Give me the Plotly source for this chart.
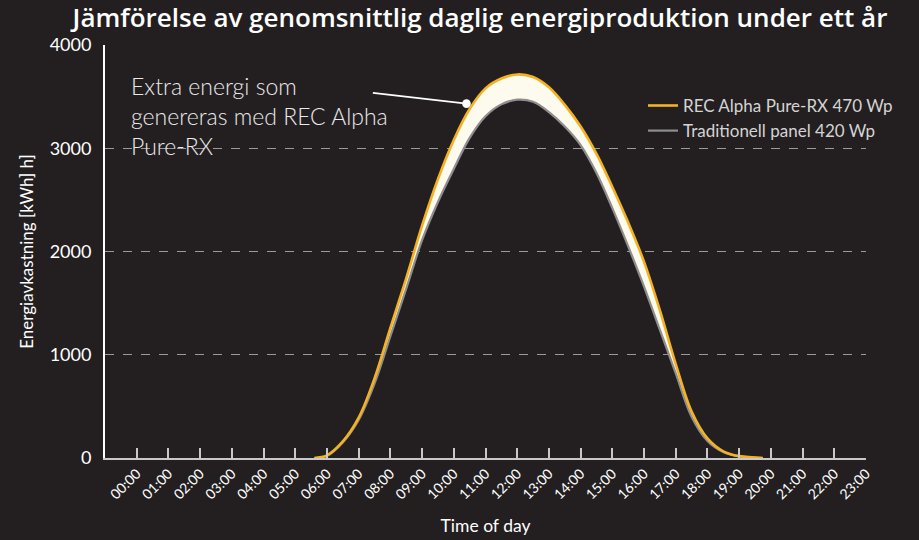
import plotly.graph_objects as go

# Data (hour of day, energy yield)
hours = [5.6, 6, 6.5, 7, 7.5, 8, 8.5, 9, 9.5, 10, 10.5, 11, 11.5, 12, 12.5, 13, 13.5, 14, 14.5,
         15, 15.5, 16, 16.5, 17, 17.5, 18, 18.5, 19, 19.75]
rec_values = [0, 25, 160, 390, 770, 1260, 1740, 2250, 2700, 3080, 3380, 3580, 3675, 3715, 3690,
              3590, 3420, 3210, 2945, 2625, 2280, 1900, 1430, 910, 450, 190, 65, 18, 0]
trad_values = [0, 20, 150, 368, 720, 1180, 1640, 2110, 2480, 2800, 3100, 3310, 3425, 3470, 3450,
               3350, 3210, 3030, 2760, 2420, 2050, 1660, 1240, 820, 400, 165, 58, 15, 0]
tick_hours = list(range(24))
tick_labels = [f"{h:02d}:00" for h in tick_hours]
y_ticks = [0, 1000, 2000, 3000, 4000]

BG = "#231f20"
FONT = "Lato"
REC_COLOR = "#f4b223"
TRAD_COLOR = "#8e8e8e"

fig = go.Figure()
# band between the two curves
fig.add_trace(go.Scatter(
    x=hours, y=trad_values, mode="lines", showlegend=False, hoverinfo="skip",
    line=dict(color=TRAD_COLOR, width=0, shape="spline", smoothing=1.0),
))
fig.add_trace(go.Scatter(
    x=hours, y=rec_values, mode="lines", showlegend=False, hoverinfo="skip",
    line=dict(color=REC_COLOR, width=0, shape="spline", smoothing=1.0),
    fill="tonexty", fillcolor="#fdfaee",
))
# visible lines
fig.add_trace(go.Scatter(
    x=hours, y=trad_values, mode="lines", name="Traditionell panel 420 Wp",
    line=dict(color=TRAD_COLOR, width=2.2, shape="spline", smoothing=1.0),
))
fig.add_trace(go.Scatter(
    x=hours, y=rec_values, mode="lines", name="REC Alpha Pure-RX 470 Wp",
    line=dict(color=REC_COLOR, width=2.6, shape="spline", smoothing=1.0),
))

plot_l, plot_r, plot_t, plot_b = 105, 53, 45, 81.5
plot_w = 919 - plot_l - plot_r
plot_h = 540 - plot_t - plot_b

fig.update_layout(
    width=919, height=540,
    paper_bgcolor=BG, plot_bgcolor=BG,
    margin=dict(l=plot_l, r=plot_r, t=plot_t, b=plot_b, autoexpand=False),
    font=dict(family=FONT, color="#ffffff"),
    title=dict(
        text="Jämförelse av genomsnittlig daglig energiproduktion under ett år",
        font=dict(family="Open Sans", size=26, color="#ffffff", weight=600),
        x=480 / 919, xanchor="center", y=1 - 18 / 540, yanchor="middle",
        xref="container", yref="container",
    ),
    showlegend=True,
    legend=dict(
        x=(643 - plot_l) / plot_w, y=1 - (88 - plot_t) / plot_h, xanchor="left", yanchor="top",
        bgcolor="rgba(0,0,0,0)", traceorder="reversed",
        font=dict(family=FONT, size=17, color="#d4d4d4"),
        itemwidth=30, tracegroupgap=0,
    ),
    xaxis=dict(
        range=[-1, 23], tickmode="array", tickvals=tick_hours, ticktext=tick_labels,
        tickangle=-45, tickfont=dict(size=14, color="#ffffff"),
        ticks="inside", ticklen=10, tickcolor="#c8c8c8", tickwidth=1.5,
        showline=True, linecolor="#c8c8c8", linewidth=2,
        showgrid=False, zeroline=False, automargin=False,
        title=dict(text="Time of day", font=dict(size=17.5, color="#ffffff"), standoff=18),
    ),
    yaxis=dict(
        range=[0, 4000], tickmode="array", tickvals=y_ticks,
        tickfont=dict(size=18, color="#ffffff"),
        showline=True, linecolor="#ffffff", linewidth=2,
        showgrid=True, gridcolor="#9a9a9a", griddash="dash", gridwidth=1.2,
        zeroline=False, ticks="", ticklabelstandoff=8, automargin=False,
        title=dict(text="Energiavkastning [kWh] h]", font=dict(size=17, color="#ffffff"), standoff=12),
    ),
)

fig.add_annotation(
    x=10.4, y=3432, ax=7.4, ay=3538, xref="x", yref="y", axref="x", ayref="y",
    text="", showarrow=True, arrowhead=6, arrowsize=1.2, arrowwidth=1.8,
    arrowcolor="#ffffff", standoff=0,
)
fig.add_annotation(
    x=(129 - plot_l) / plot_w, y=1 - (70 - plot_t) / plot_h, xref="paper", yref="paper",
    text="Extra energi som<br>genereras med REC Alpha<br>Pure-RX",
    showarrow=False, align="left", xanchor="left", yanchor="top",
    font=dict(family=FONT, size=23, color="#eaeaea", weight=300),
)

fig.write_html(
    "out.html",
    config={"displayModeBar": False},
    post_script="document.body.style.margin='0';document.body.style.overflow='hidden';",
)
